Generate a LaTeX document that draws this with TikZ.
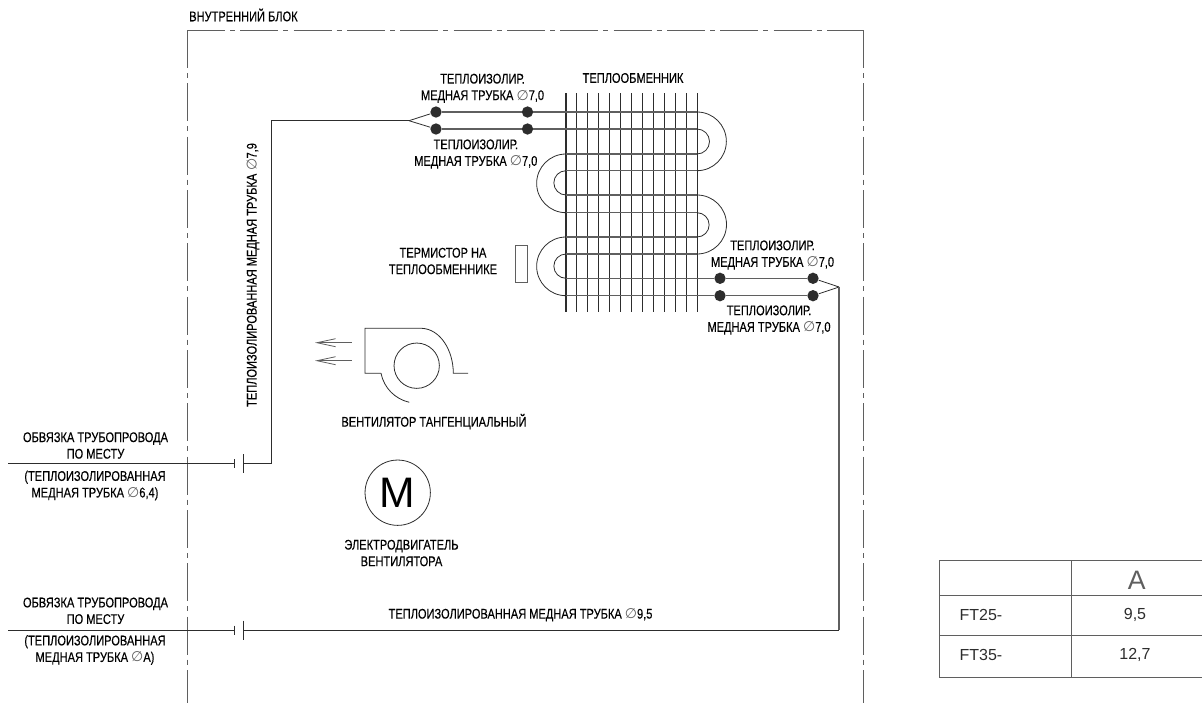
\documentclass[tikz,border=0pt]{standalone}
\usepackage{fontspec}
\setmainfont{Liberation Sans}[FakeStretch=0.79,FakeBold=0.25]
\newfontfamily\tablefont{Liberation Sans}
\newfontfamily\symbfont{DejaVu Sans}
\newcommand{\diam}{{\symbfont\color{linegray}∅}}
\usetikzlibrary{arrows.meta}
\definecolor{linedark}{RGB}{45,45,45}
\definecolor{linegray}{RGB}{95,95,95}
\tikzstyle{tag} = [align=center, inner sep=0pt, text=black, font=\fontsize{10.5}{12.4}\selectfont]
\tikzstyle{cell} = [inner sep=0pt, text=linedark, font=\tablefont\fontsize{12}{14}\selectfont]
\tikzstyle{solder} = [circle, fill=linedark, draw=none, minimum size=8.5pt, inner sep=0pt]
\tikzstyle{tube} = [linegray, line width=0.9pt]
\tikzstyle{thin} = [linedark, line width=0.6pt]
\tikzstyle{fin} = [linedark, line width=0.8pt]
\tikzstyle{unit} = [linegray, line width=0.75pt, dash pattern=on 28.5pt off 3.75pt on 3.75pt off 4pt]
\tikzstyle{rule} = [linegray, line width=0.75pt]
\tikzstyle{flow} = [linegray, line width=0.6pt, -{Straight Barb[length=14pt,width=6pt]}]

\begin{document}
\begin{tikzpicture}
[x=0.75pt, y=-0.75pt]

\useasboundingbox (0,0) rectangle (1202,703);

\coordinate (cornerL) at (187,30);
\coordinate (cornerR) at (863,30);
\coordinate (endL) at (187,703);
\coordinate (endR) at (863,703);
\draw [unit] (cornerL) -- (cornerR);
\draw [unit] (cornerL) -- (endL);
\draw [unit] (cornerR) -- (endR);
\node (unitname) [tag,anchor=west] at (189,15) {ВНУТРЕННИЙ БЛОК};

\foreach \i in {0,...,12}
  \draw [fin] (566+\i*10.95,93) -- (566+\i*10.95,312);
\foreach \y in {154,170.7,195,212.7,237,254}
  \draw [tube] (566,\y) -- (697,\y);

\draw [thin] (697,112) arc [start angle=-90, end angle=90, radius=29.35];
\draw [thin] (697,129) arc [start angle=-90, end angle=90, radius=12.5];
\draw [thin] (697,195) arc [start angle=-90, end angle=90, radius=29.5];
\draw [thin] (697,212.7) arc [start angle=-90, end angle=90, radius=12.15];
\draw [thin] (566,154) arc [start angle=270, end angle=90, radius=29.35];
\draw [thin] (566,170.7) arc [start angle=270, end angle=90, radius=12.15];
\draw [thin] (566,237) arc [start angle=270, end angle=90, radius=29.35];
\draw [thin] (566,254) arc [start angle=270, end angle=90, radius=12.15];

\node (inA) [solder] at (436,112) {};
\node (inB) [solder] at (436,129) {};
\node (inC) [solder] at (527.5,112) {};
\node (inD) [solder] at (527.5,129) {};
\node (outA) [solder] at (720,278.3) {};
\node (outB) [solder] at (720,295.7) {};
\node (outC) [solder] at (813,278.3) {};
\node (outD) [solder] at (813,295.7) {};
\coordinate (bendA) at (697,112);
\coordinate (bendB) at (697,129);
\coordinate (gridA) at (566,278.3);
\coordinate (gridB) at (566,295.7);
\coordinate (splitL) at (409,120.7);
\coordinate (splitR) at (839,287);
\coordinate (liquidUp) at (271,120.7);
\coordinate (liquidDown) at (271,463.5);
\coordinate (gasDown) at (839,630);

\draw [tube] (inA) -- (inC);
\draw [tube] (inC) -- (bendA);
\draw [tube] (inB) -- (inD);
\draw [tube] (inD) -- (bendB);
\draw [tube] (gridA) -- (outA);
\draw [tube] (outA) -- (outC);
\draw [tube] (gridB) -- (outB);
\draw [tube] (outB) -- (outD);
\draw [thin] (splitL) -- (inA);
\draw [thin] (splitL) -- (inB);
\draw [thin] (splitR) -- (outC);
\draw [thin] (splitR) -- (outD);

\coordinate (liquidIn) at (8,463.5);
\coordinate (liquidS) at (234,463.5);
\coordinate (liquidT) at (243,463.5);
\coordinate (gasIn) at (8,630);
\coordinate (gasS) at (234,630);
\coordinate (gasT) at (243,630);
\draw [thin] (liquidIn) -- (liquidS);
\draw [thin] (liquidS) ++(0,-4.5) -- ++(0,9);
\draw [thin] (liquidT) ++(0,-9.5) -- ++(0,19);
\draw [thin] (liquidT) -- (liquidDown) -- (liquidUp) -- (splitL);
\draw [thin] (gasIn) -- (gasS);
\draw [thin] (gasS) ++(0,-4.5) -- ++(0,9);
\draw [thin] (gasT) ++(0,-9.5) -- ++(0,19);
\draw [thin] (gasT) -- (gasDown);
\draw [tube] (gasDown) -- (splitR);

\node (sensor) [draw=linegray, line width=0.6pt, minimum width=8.7pt, minimum height=28pt, inner sep=0pt] at (521.2,264) {};

\node (fanrotor) [circle, draw=linedark, line width=0.6pt, minimum size=34pt, inner sep=0pt] at (416.7,365.7) {};
\draw [thin] (381,373.3) -- (365,373.3) -- (365,328.3) -- (421.7,328.3)
  .. controls (440,329) and (453.3,350) .. (453.3,373.3) -- (468,373.3);
\draw [thin] (381,373.3) .. controls (384,388) and (395,399) .. (409.3,402.3);
\coordinate (fanoutA) at (351.7,342.7);
\coordinate (fanendA) at (315,342.7);
\coordinate (fanoutB) at (351.7,360.7);
\coordinate (fanendB) at (315,360.7);
\draw [flow] (fanoutA) -- (fanendA);
\draw [flow] (fanoutB) -- (fanendB);

\node (motor) [circle, draw=linedark, line width=0.6pt, minimum size=49pt, inner sep=0pt, text=black, font=\tablefont\fontsize{32}{32}\selectfont] at (397.7,492.7) {M};

\node (pipeA) [tag] at (482.5,88.3) {ТЕПЛОИЗОЛИР.\\МЕДНАЯ ТРУБКА \diam7,0};
\node (pipeB) [tag] at (475.8,154) {ТЕПЛОИЗОЛИР.\\МЕДНАЯ ТРУБКА \diam7,0};
\node (coil) [tag] at (633,78) {ТЕПЛООБМЕННИК};
\node (thermistor) [tag] at (443,261) {ТЕРМИСТОР НА\\ТЕПЛООБМЕННИКЕ};
\node (pipeC) [tag] at (772.5,255) {ТЕПЛОИЗОЛИР.\\МЕДНАЯ ТРУБКА \diam7,0};
\node (pipeD) [tag] at (769,320) {ТЕПЛОИЗОЛИР.\\МЕДНАЯ ТРУБКА \diam7,0};
\node (fanname) [tag] at (434,421.7) {ВЕНТИЛЯТОР ТАНГЕНЦИАЛЬНЫЙ};
\node (motorname) [tag] at (401.5,553) {ЭЛЕКТРОДВИГАТЕЛЬ\\ВЕНТИЛЯТОРА};
\node (liquidpipe) [tag,rotate=90] at (253,275) {ТЕПЛОИЗОЛИРОВАННАЯ МЕДНАЯ ТРУБКА \diam7,9};
\node (gaspipe) [tag] at (520.5,615) {ТЕПЛОИЗОЛИРОВАННАЯ МЕДНАЯ ТРУБКА \diam9,5};
\node (fieldA) [tag] at (95.5,445.5) {ОБВЯЗКА ТРУБОПРОВОДА\\ПО МЕСТУ};
\node (fieldB) [tag] at (95,485.5) {(ТЕПЛОИЗОЛИРОВАННАЯ\\МЕДНАЯ ТРУБКА \diam6,4)};
\node (fieldC) [tag] at (95.5,610.8) {ОБВЯЗКА ТРУБОПРОВОДА\\ПО МЕСТУ};
\node (fieldD) [tag] at (95,650) {(ТЕПЛОИЗОЛИРОВАННАЯ\\МЕДНАЯ ТРУБКА \diam A)};

\coordinate (tabTL) at (939.3,560.7);
\coordinate (tabTR) at (1202,560.7);
\coordinate (tabBL) at (939.3,677.7);
\coordinate (tabBR) at (1202,677.7);
\coordinate (tabTM) at (1071.7,560.7);
\coordinate (tabBM) at (1071.7,677.7);
\draw [rule] (tabTR) -- (tabTL) -- (tabBL) -- (tabBR);
\draw [rule] (tabTM) -- (tabBM);
\draw [rule] (939.3,595) -- (1202,595);
\draw [rule] (939.3,635) -- (1202,635);

\node (colA) [cell, font=\tablefont\fontsize{20}{20}\selectfont, text=linegray] at (1136.7,580) {A};
\node (rowA) [cell,anchor=west] at (959.3,615) {FT25-};
\node (rowB) [cell,anchor=west] at (959.3,655) {FT35-};
\node (valA) [cell] at (1135,615) {9,5};
\node (valB) [cell] at (1135,655) {12,7};

\end{tikzpicture}
\end{document}
